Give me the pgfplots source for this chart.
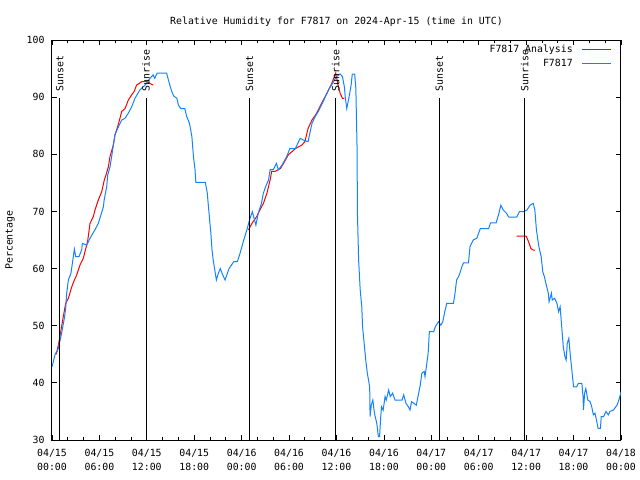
\documentclass[border=0pt]{standalone}
\usepackage{pgfplots}
\pgfplotsset{compat=1.18}
\usepackage{fontspec}
\setmainfont{DejaVu Sans Mono}
\setmonofont{DejaVu Sans Mono}
\definecolor{obsblue}{RGB}{20,130,255}
\begin{document}
\fontsize{9.9}{11}\selectfont
\begin{tikzpicture}
\begin{axis}[
  scale only axis, width=569bp, height=400bp,
  xmin=0, xmax=72, ymin=30, ymax=100,
  xtick={0,6,...,72},
  xticklabels={{04/15\\00:00},{04/15\\06:00},{04/15\\12:00},{04/15\\18:00},{04/16\\00:00},{04/16\\06:00},{04/16\\12:00},{04/16\\18:00},{04/17\\00:00},{04/17\\06:00},{04/17\\12:00},{04/17\\18:00},{04/18\\00:00}},
  xticklabel style={align=center, font=\fontsize{9.9}{14}\selectfont, yshift=-6bp},
  minor x tick num=2,
  ytick={30,40,...,100},
  yticklabel style={font=\fontsize{9.9}{11}\selectfont, xshift=-4bp},
  /pgf/number format/assume math mode=true,
  tick align=inside,
  major tick length=5bp, minor tick length=3bp,
  tick style={black, line width=0.8bp},
  axis line style={line width=1bp},
  title={Relative Humidity for F7817 on 2024-Apr-15 (time in UTC)},
  title style={at={(axis description cs:0.5,1)}, anchor=base, yshift=10bp, font=\fontsize{9.9}{11}\selectfont},
  ylabel={Percentage},
  ylabel style={at={(axis description cs:-0.0738,0.5)}, anchor=center, font=\fontsize{9.9}{11}\selectfont},
  legend style={draw=none, fill=none, at={(rel axis cs:0.984,0.992)}, anchor=north east, font=\fontsize{9.9}{11}\selectfont, row sep=0.5bp, column sep=7bp, inner sep=0pt},
  legend cell align=right,
  legend plot pos=right,
  legend image code/.code={\draw[#1] (0bp,0bp) -- (29bp,0bp);},
]
% analysis (red)
\addplot[red, line width=1bp] coordinates {
(0.55,45.0) (0.8,46.6) (1.0,48.1) (1.43,51.6) (1.73,53.9) (2.07,54.8) (2.5,56.8) (2.83,58.0) (3.13,58.9) (3.54,60.6) (3.96,61.8) (4.18,63.0) (4.5,64.7) (4.81,67.9) (5.23,69.1) (5.44,70.25) (5.86,72.0) (6.29,73.45) (6.62,75.5) (6.84,76.4) (7.13,77.8) (7.34,79.6) (7.76,81.6) (7.97,83.4) (8.3,84.8) (8.6,86.3) (8.82,87.5) (9.24,88.0) (9.66,89.5) (10.08,90.4) (10.4,91.0) (10.7,92.1) (11.35,92.7) (11.99,92.7) (12.4,92.4) (12.8,92.1)
};
\addlegendentry{F7817 Analysis}
\addplot[red, line width=1bp, forget plot] coordinates {
(24.85,66.75) (25.3,67.9) (25.9,69.1) (26.3,70.25) (26.75,71.4) (27.2,73.2) (27.6,75.5) (27.8,77.0) (28.2,77.0) (28.9,77.5) (29.3,78.4) (29.9,79.9) (30.8,81.0) (31.6,81.6) (32.0,82.2) (32.4,84.5) (32.9,86.0) (33.5,87.2) (34.1,88.9) (34.8,90.7) (35.4,92.4) (35.9,94.2) (36.2,92.1) (36.46,90.7) (36.75,89.8) (37.0,89.8)
};
\addplot[red, line width=1bp, forget plot] coordinates {
(58.8,65.7) (60.0,65.7) (60.3,64.7) (60.6,63.5) (60.9,63.25) (61.1,63.25)
};
% observations (blue)
\addplot[obsblue, line width=1bp] coordinates {
(0.0,42.8) (0.4,45.0) (0.8,46.0) (1.22,48.7) (1.56,51.3) (1.73,53.0) (1.86,55.7) (2.07,58.0) (2.4,59.2) (2.7,62.1) (2.83,63.4) (3.0,62.1) (3.42,62.1) (3.76,63.3) (3.84,64.4) (4.39,64.1) (4.81,65.3) (5.44,66.8) (5.86,67.9) (6.5,70.8) (6.6,72.0) (6.92,74.3) (7.05,76.4) (7.34,77.8) (7.55,79.6) (7.76,81.6) (7.97,83.4) (8.4,84.8) (8.82,86.0) (9.24,86.3) (9.66,87.2) (10.08,88.3) (10.5,89.8) (11.14,91.3) (11.77,92.1) (12.4,93.3) (12.8,93.9) (13.0,93.3) (13.3,94.2) (14.5,94.2) (14.85,92.4) (15.15,91.0) (15.4,90.2) (15.8,89.8) (16.0,88.6) (16.3,88.0) (16.8,88.0) (17.05,86.6) (17.4,85.4) (17.7,83.1) (17.9,79.6) (18.1,77.25) (18.2,75.1) (19.4,75.1) (19.65,73.2) (19.8,70.8) (20.1,66.2) (20.25,63.25) (20.4,61.5) (20.6,59.75) (20.8,58.0) (21.05,59.2) (21.3,60.0) (21.6,58.9) (21.9,58.0) (22.2,59.2) (22.4,60.0) (23.0,61.2) (23.45,61.2) (23.8,62.7) (24.2,64.7) (24.65,66.75) (25.06,68.8) (25.35,69.95) (25.8,67.6) (26.1,69.7) (26.5,71.4) (26.75,73.2) (27.05,74.4) (27.4,75.5) (27.6,77.3) (28.0,77.3) (28.4,78.4) (28.65,77.3) (29.1,78.1) (29.7,79.6) (30.1,81.0) (30.8,81.0) (31.4,82.8) (31.8,82.5) (32.4,82.2) (32.9,85.4) (33.3,86.6) (33.7,87.5) (34.1,88.6) (34.6,90.1) (35.0,91.3) (35.5,92.4) (36.0,93.6) (36.46,94.05) (36.75,93.6) (37.0,91.8) (37.1,90.1) (37.3,88.0) (37.6,90.1) (37.85,92.1) (38.0,94.05) (38.3,94.05) (38.45,91.5) (38.6,81.3) (38.65,69.7) (38.8,61.5) (39.0,56.25) (39.2,53.3) (39.3,49.8) (39.5,46.9) (39.7,44.0) (39.9,41.7) (40.2,39.3) (40.25,34.1) (40.4,36.1) (40.6,37.0) (40.8,34.7) (41.1,32.9) (41.3,30.6) (41.45,30.6) (41.6,34.1) (41.7,35.8) (41.9,35.2) (42.15,37.6) (42.3,37.0) (42.6,38.75) (42.8,37.6) (43.1,38.2) (43.4,37.0) (44.3,37.0) (44.5,37.9) (44.8,36.4) (45.1,35.8) (45.3,35.25) (45.5,36.7) (46.1,36.1) (46.4,38.2) (46.6,39.6) (46.8,41.7) (47.1,42.0) (47.2,41.1) (47.4,43.1) (47.6,45.2) (47.75,48.95) (48.3,48.95) (48.5,49.8) (48.9,50.7) (49.2,50.1) (49.45,50.7) (49.7,52.45) (49.95,53.9) (50.8,53.9) (51.0,55.7) (51.2,58.0) (51.55,58.9) (51.86,60.3) (52.07,61.0) (52.7,61.0) (52.9,63.9) (53.3,65.0) (53.75,65.3) (54.2,67.0) (55.25,67.0) (55.5,68.0) (56.2,68.0) (56.5,69.4) (56.8,71.1) (57.1,70.25) (57.5,69.7) (57.8,69.0) (58.8,69.0) (59.15,69.95) (59.7,69.95) (60.1,70.25) (60.5,71.1) (60.9,71.4) (61.1,70.25) (61.3,66.75) (61.6,63.9) (61.9,62.1) (62.1,59.45) (62.3,58.6) (62.5,57.4) (62.8,55.7) (62.9,54.2) (63.2,55.7) (63.3,54.5) (63.6,54.8) (63.9,53.9) (64.1,52.45) (64.3,53.3) (64.5,49.8) (64.7,46.3) (64.9,44.6) (65.06,44.0) (65.2,46.9) (65.4,47.8) (65.6,44.6) (65.8,42.0) (66.0,39.3) (66.4,39.3) (66.6,39.9) (67.05,39.9) (67.2,37.6) (67.25,35.25) (67.4,38.2) (67.55,39.0) (67.8,37.0) (68.1,36.7) (68.3,35.8) (68.5,34.4) (68.7,34.7) (68.9,33.5) (69.1,32.05) (69.4,32.05) (69.5,34.1) (69.8,34.1) (70.1,35.0) (70.4,34.4) (70.6,35.0) (71.05,35.25) (71.5,36.1) (71.8,37.3) (72.0,38.45)
};
\addlegendentry{F7817}
% sunset / sunrise markers
\addplot[black, line width=1bp, forget plot] coordinates {(1.0,30) (1.0,89.85)};
\addplot[black, line width=1bp, forget plot] coordinates {(11.9,30) (11.9,89.85)};
\addplot[black, line width=1bp, forget plot] coordinates {(25.0,30) (25.0,89.85)};
\addplot[black, line width=1bp, forget plot] coordinates {(35.9,30) (35.9,89.85)};
\addplot[black, line width=1bp, forget plot] coordinates {(49.0,30) (49.0,89.85)};
\addplot[black, line width=1bp, forget plot] coordinates {(59.8,30) (59.8,89.85)};
\node[rotate=90, anchor=west, inner sep=0pt] at (axis cs:1.0,91) {Sunset};
\node[rotate=90, anchor=west, inner sep=0pt] at (axis cs:11.9,91) {Sunrise};
\node[rotate=90, anchor=west, inner sep=0pt] at (axis cs:25.0,91) {Sunset};
\node[rotate=90, anchor=west, inner sep=0pt] at (axis cs:35.9,91) {Sunrise};
\node[rotate=90, anchor=west, inner sep=0pt] at (axis cs:49.0,91) {Sunset};
\node[rotate=90, anchor=west, inner sep=0pt] at (axis cs:59.8,91) {Sunrise};
\end{axis}
\path (current axis.south west) ++(-52bp,-40bp) rectangle ++(640bp,480bp);
\end{tikzpicture}
\end{document}
